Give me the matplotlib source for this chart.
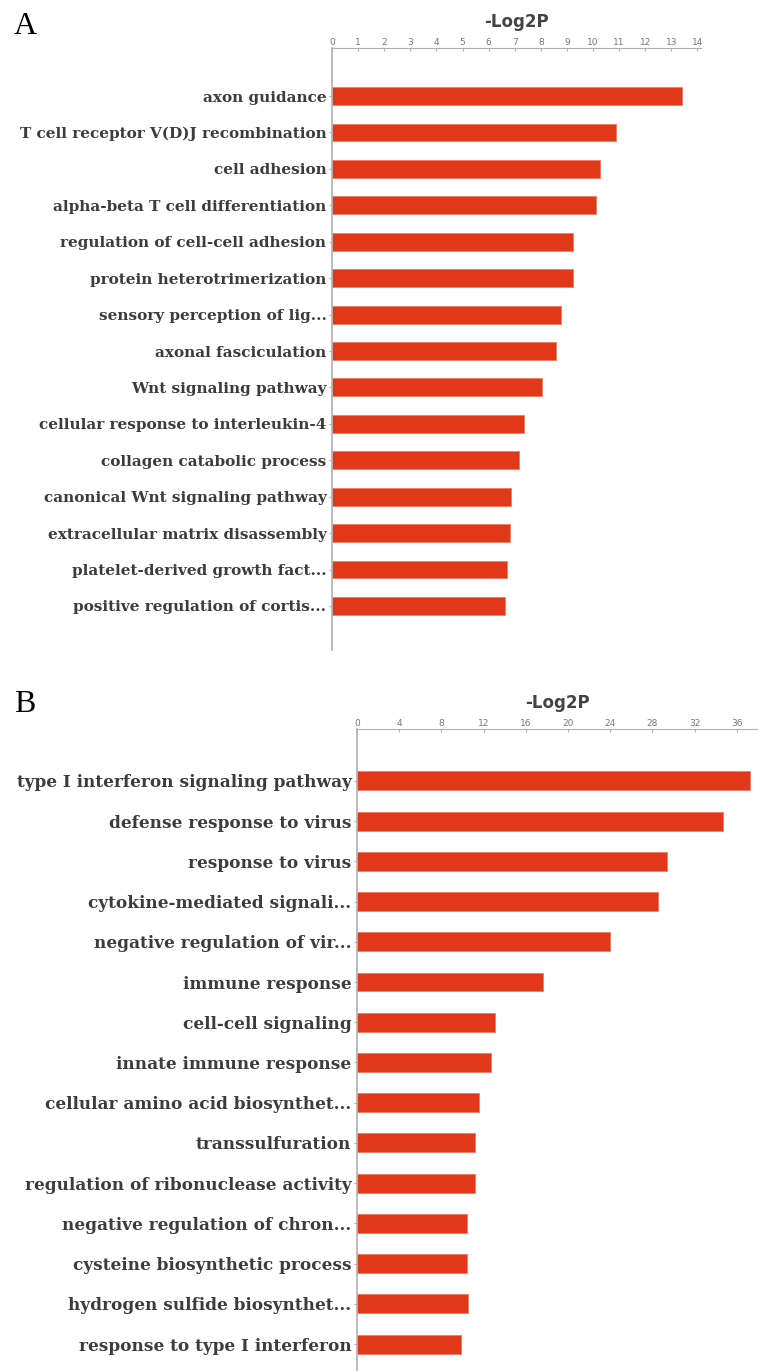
import matplotlib
matplotlib.use("Agg")
import matplotlib.pyplot as plt

terms_a = ["axon guidance", "T cell receptor V(D)J recombination", "cell adhesion",
           "alpha-beta T cell differentiation", "regulation of cell-cell adhesion",
           "protein heterotrimerization", "sensory perception of lig...",
           "axonal fasciculation", "Wnt signaling pathway",
           "cellular response to interleukin-4", "collagen catabolic process",
           "canonical Wnt signaling pathway", "extracellular matrix disassembly",
           "platelet-derived growth fact...", "positive regulation of cortis..."]
values_a = [13.4, 10.88, 10.27, 10.1, 9.23, 9.23, 8.77, 8.58, 8.05, 7.36, 7.16, 6.86, 6.82, 6.7, 6.63]
ticks_a = list(range(0, 15))

terms_b = ["type I interferon signaling pathway", "defense response to virus",
           "response to virus", "cytokine-mediated signali...",
           "negative regulation of vir...", "immune response", "cell-cell signaling",
           "innate immune response", "cellular amino acid biosynthet...",
           "transsulfuration", "regulation of ribonuclease activity",
           "negative regulation of chron...", "cysteine biosynthetic process",
           "hydrogen sulfide biosynthet...", "response to type I interferon"]
values_b = [37.2, 34.7, 29.4, 28.5, 24.0, 17.6, 13.1, 12.7, 11.55, 11.2, 11.2, 10.4, 10.4, 10.5, 9.9]
ticks_b = list(range(0, 37, 4))

W, H = 758, 1371
fig = plt.figure(figsize=(W / 100, H / 100), dpi=100)

bar_color = "#e2381a"
label_color = "#3c3c3c"
axis_color = "#b0b0b0"


def panel(rect, terms, values, ticks, xmax, ylim, bar_h, label_size, title_pad):
    left, top, right, bottom = rect
    ax = fig.add_axes([left / W, 1 - bottom / H, (right - left) / W, (bottom - top) / H])
    pos = list(range(len(terms)))
    ax.barh(pos, values, height=bar_h, color=bar_color, edgecolor="#f07a60", linewidth=0.6)
    ax.set_xlim(0, xmax)
    ax.set_ylim(*ylim)
    ax.set_yticks(pos)
    ax.set_yticklabels(terms, family="DejaVu Serif", fontweight="bold",
                       fontsize=label_size, color=label_color)
    ax.set_xticks(ticks)
    ax.xaxis.tick_top()
    ax.tick_params(axis="x", length=2, direction="in", color=axis_color, labelsize=6.5,
                   labelcolor="#777777", pad=1)
    ax.tick_params(axis="y", length=2, color=axis_color, pad=2)
    for s in ["right", "bottom"]:
        ax.spines[s].set_visible(False)
    ax.spines["top"].set_color(axis_color)
    ax.spines["left"].set_color(axis_color)
    ax.spines["left"].set_linewidth(1.2)
    ax.set_title("-Log2P", fontsize=12, fontweight="bold", color="#444444",
                 family="DejaVu Sans", pad=title_pad)
    return ax


panel((332, 48, 332 + 14.15 * 26.1, 650), terms_a, values_a, ticks_a, 14.15,
      (14 + 1.21, -1.32), 0.49, 11, 15)
panel((357, 729, 758, 1371), terms_b, values_b, ticks_b, 38.0,
      (14 + 0.67, -1.29), 0.47, 12.2, 15)

fig.text(14 / W, 1 - 27 / H, "A", family="Liberation Serif", fontsize=23, va="center")
fig.text(14 / W, 1 - 704 / H, "B", family="Liberation Serif", fontsize=23, va="center")

plt.savefig("out.png", dpi=100)
